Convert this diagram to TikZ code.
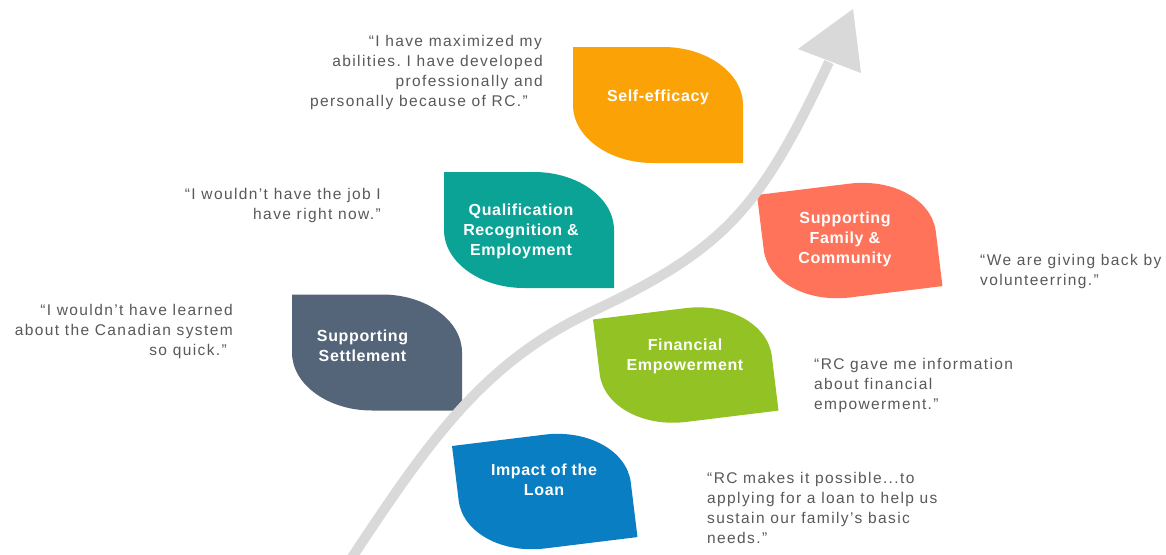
\documentclass[tikz,border=0pt]{standalone}
\usepackage{fontspec}
\setmainfont{Liberation Sans}
\newfontfamily\qfont[LetterSpace=9]{Liberation Sans}
\newfontfamily\lfont[LetterSpace=4]{Liberation Sans}
\definecolor{orangeC}{HTML}{FBA306}
\definecolor{tealC}{HTML}{0CA397}
\definecolor{slateC}{HTML}{546479}
\definecolor{coralC}{HTML}{FF735A}
\definecolor{greenC}{HTML}{92C224}
\definecolor{blueC}{HTML}{0A7EC2}
\definecolor{arrowC}{HTML}{D9D9D9}
\definecolor{quoteC}{HTML}{595959}
\frenchspacing
\newcommand\leafpath[2]{(0,0) -- ({#1-80},0) .. controls ({#1-36},0) and (#1,26) .. (#1,58) -- (#1,#2) -- (80,#2) .. controls (36,#2) and (0,{#2-26}) .. (0,{#2-58}) -- cycle}
\tikzset{
  quote/.style={font=\qfont\fontsize{15.5}{19.8}\selectfont, text=quoteC, inner sep=0pt},
  lbl/.style={font=\lfont\bfseries\fontsize{16}{20}\selectfont, text=white, align=center, inner sep=0pt},
}
\begin{document}
\begin{tikzpicture}[x=1pt,y=-1pt]
\useasboundingbox (0,0) rectangle (1166,554);
\fill[white] (0,0) rectangle (1166,554);
% leaves
\fill[orangeC, shift={(573,47)}] \leafpath{170}{116};
\fill[tealC, shift={(444,172)}] \leafpath{170}{116};
\fill[slateC, shift={(292,294.5)}] \leafpath{170}{116};
\fill[coralC, shift={(757,195)}, rotate=7] \leafpath{173}{113};
\fill[greenC, shift={(593,319.5)}, rotate=7] \leafpath{173}{113};
\fill[blueC, shift={(452,446)}, rotate=7] \leafpath{173}{113};
% growth arrow
\coordinate (start) at (349,562);
\coordinate (mid) at (593,311);
\coordinate (headbase) at (829,62);
\draw[arrowC, line width=10pt] (start) .. controls (431.5,436.8) and (484.4,362) .. (mid) .. controls (725.1,248.9) and (760.8,208) .. (headbase);
\fill[arrowC] (853,9) -- (798,49) -- (861,73) -- cycle;
% labels (base = last line baseline)
\node[lbl, anchor=base] (l1) at (658,101.7) {Self-efficacy};
\node[lbl, anchor=base] (l2) at (521,255) {Qualification\\Recognition \&\\Employment};
\node[lbl, anchor=base] (l3) at (362.5,361) {Supporting\\Settlement};
\node[lbl, anchor=base] (l4) at (845,263) {Supporting\\Family \&\\Community};
\node[lbl, anchor=base] (l5) at (685,370.7) {Financial\\Empowerment};
\node[lbl, anchor=base] (l6) at (544,495) {Impact of the\\Loan};
% quotes (base = last line baseline)
\node[quote, align=right, anchor=base east] (q1) at (543,106) {“I have maximized my\hspace*{1pt}\\abilities. I have developed\\professionally and\hspace*{11pt}\\personally because of RC.”\hspace*{15pt}};
\node[quote, align=right, anchor=base east] (q2) at (381,219) {“I wouldn’t have the job I\\have right now.”};
\node[quote, align=right, anchor=base east] (q3) at (233,355) {“I wouldn’t have learned\\about the Canadian system\hspace*{8pt}\\so quick.”\hspace*{6pt}};
\node[quote, align=left, anchor=base west] (q4) at (980,285) {“We are giving back by\\volunteerring.”};
\node[quote, align=left, anchor=base west] (q5) at (814,409) {“RC gave me information\\about financial\\empowerment.”};
\node[quote, align=left, anchor=base west] (q6) at (707,543) {“RC makes it possible...to\\applying for a loan to help us\\sustain our family’s basic\\needs.”};
\end{tikzpicture}
\end{document}
